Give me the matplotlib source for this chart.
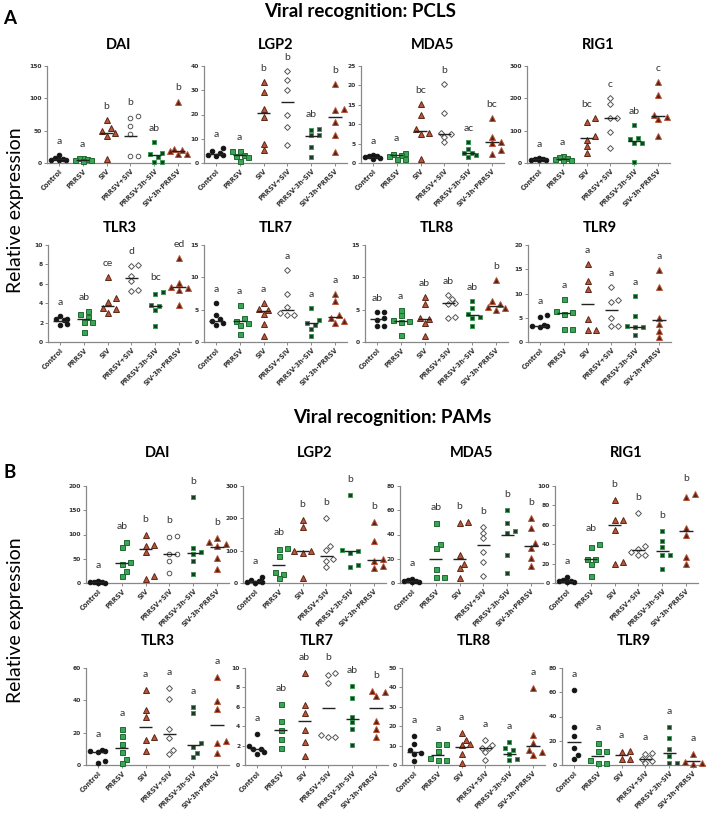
import numpy as np
import matplotlib
matplotlib.use("Agg")
import matplotlib.pyplot as plt

plt.rcParams["font.family"] = ["Lato", "DejaVu Sans"]

GROUPS = ["Control", "PRRSV", "SIV", "PRRSV+SIV", "PRRSV-3h-SIV", "SIV-3h-PRRSV"]

# ---- PCLS ----
PCLS_DAI = [[13, 7, 6, 5, 5, 4], [8, 7, 6, 5, 4, 3], [66, 54, 49, 47, 42, 6],
            [72, 69, 57, 45, 11, 11], [32, 16, 14, 10, 2, 2], [95, 21, 20, 19, 14, 14]]
PCLS_DAI_MED = [6, 5, 47, 42, 13, 18]
PCLS_DAI_LET = ["a", "a", "b", "b", "ab", "b"]

PCLS_LGP2 = [[6, 5, 4, 3.5, 3.3, 3], [5, 4.8, 3.5, 3, 2.5, 1], [33.3, 29.2, 22.4, 19, 7.9, 5.2],
             [38, 34.4, 30, 20, 14.7, 7.4], [14.2, 13.7, 11.6, 11.4, 6.7, 2.5], [32.6, 22.3, 21.7, 17, 11.7, 4.5]]
PCLS_LGP2_MED = [3.6, 3.2, 20.6, 25, 11.3, 19]
PCLS_LGP2_LET = ["a", "a", "b", "b", "ab", "b"]

PCLS_MDA5 = [[2.1, 1.9, 1.7, 1.5, 1.3, 1.0], [2.7, 2.4, 2.1, 1.7, 1.0, 1.0], [15.1, 12.5, 8.7, 7.7, 7.6, 1.0],
             [20.3, 13, 7.7, 7.5, 6.8, 5.3], [5.5, 3.7, 2.6, 2.6, 2.1, 1.6], [11.5, 6.7, 5.3, 5.1, 3.3, 2.3]]
PCLS_MDA5_MED = [1.6, 2.0, 8.2, 7.4, 2.7, 5.3]
PCLS_MDA5_LET = ["a", "a", "bc", "b", "ac", "bc"]

PCLS_RIG1 = [[14, 12, 11, 10, 9, 8], [22, 18, 15, 12, 10, 8], [138, 128, 84, 72, 54, 31],
             [202, 182, 140, 139, 95, 46], [118, 77, 74, 63, 61, 2], [249, 210, 150, 141, 135, 84]]
PCLS_RIG1_MED = [11, 12, 76, 140, 67, 146]
PCLS_RIG1_LET = ["a", "a", "bc", "c", "ab", "c"]

PCLS_TLR3 = [[2.7, 2.4, 2.4, 2.3, 1.9, 1.8], [3.2, 2.9, 2.6, 2.1, 2.1, 1.0], [6.7, 4.5, 4.1, 3.5, 3.4, 3.0],
             [7.9, 7.8, 6.8, 6.3, 5.4, 5.3], [5.2, 5.0, 3.8, 3.7, 3.3, 1.6], [8.7, 6.1, 5.7, 5.6, 5.4, 3.8]]
PCLS_TLR3_MED = [2.2, 2.4, 3.7, 6.6, 3.7, 5.7]
PCLS_TLR3_LET = ["a", "ab", "ce", "d", "bc", "ed"]

PCLS_TLR7 = [[6.0, 4.1, 3.5, 3.3, 2.9, 2.7], [5.7, 3.7, 3.3, 3.0, 2.7, 1.2], [6.0, 5.1, 5.0, 4.3, 2.8, 1.0],
             [11.1, 7.4, 5.4, 4.5, 4.1, 4.1], [5.3, 3.4, 2.9, 2.7, 2.0, 1.0], [7.4, 6.4, 4.1, 3.7, 3.2, 2.9]]
PCLS_TLR7_MED = [3.2, 3.2, 4.8, 5.0, 3.0, 3.8]
PCLS_TLR7_LET = ["a", "a", "a", "a", "a", "a"]

PCLS_TLR8 = [[4.6, 4.6, 3.7, 3.4, 2.4, 2.4], [5.0, 4.1, 3.4, 3.2, 3.1, 1.1], [6.9, 5.9, 3.7, 3.6, 2.9, 1.0],
             [7.3, 6.6, 6.1, 5.9, 3.8, 3.7], [6.4, 5.3, 4.3, 3.9, 3.7, 2.4], [9.6, 6.4, 5.8, 5.4, 5.2, 5.0]]
PCLS_TLR8_MED = [3.6, 3.3, 3.6, 6.0, 4.1, 5.5]
PCLS_TLR8_LET = ["ab", "a", "ab", "ab", "ab", "b"]

PCLS_TLR9 = [[5.5, 5.1, 3.6, 3.2, 3.2, 3.1], [8.9, 6.3, 6.2, 5.8, 2.7, 2.7], [16.1, 12.6, 10.9, 4.8, 2.5, 2.5],
             [11.3, 8.7, 8.2, 4.9, 3.2, 3.2], [9.4, 5.3, 3.2, 3.1, 3.1, 1.5], [14.9, 11.4, 5.0, 3.8, 2.3, 1.0]]
PCLS_TLR9_MED = [3.3, 6.0, 7.9, 6.6, 3.1, 4.5]
PCLS_TLR9_LET = ["a", "a", "a", "a", "a", "a"]

# ---- PAMs ----
PAM_DAI = [[4, 3, 2, 2, 1, 1], [84, 74, 43, 39, 24, 15], [99, 78, 76, 63, 15, 8],
           [96, 94, 60, 60, 45, 21], [177, 73, 63, 60, 46, 18], [92, 84, 81, 77, 51, 29]]
PAM_DAI_MED = [2, 41, 71, 60, 61, 74]
PAM_DAI_LET = ["a", "ab", "b", "b", "b", "b"]

PAM_LGP2 = [[18, 10, 6, 4, 2, 1], [107, 105, 82, 33, 28, 16], [195, 174, 99, 98, 92, 17],
            [200, 113, 102, 74, 67, 49], [271, 102, 100, 92, 56, 51], [190, 130, 74, 67, 54, 47]]
PAM_LGP2_MED = [5, 57, 99, 85, 98, 72]
PAM_LGP2_LET = ["a", "ab", "b", "b", "b", "b"]

PAM_MDA5 = [[3, 2.5, 2, 1.5, 1, 1], [49.3, 32, 28.8, 11.8, 4.9, 4.9], [49.9, 49.3, 23.3, 15.6, 12.3, 4.1],
            [45.8, 41.6, 37.5, 25.2, 17.3, 6.0], [60.3, 49.3, 42.5, 41.1, 23.3, 8.2], [54, 45, 33, 29, 20.5, 13.7]]
PAM_MDA5_MED = [1.7, 20, 19.5, 31.2, 40, 30.7]
PAM_MDA5_LET = ["a", "ab", "b", "b", "b", "b"]

PAM_RIG1 = [[6, 3, 2.5, 2, 1.5, 1], [40, 37, 25, 25, 20, 7.5], [86, 65, 65, 55, 22, 20],
            [72, 38, 35, 32, 29, 29], [54, 43, 37, 29, 29, 14], [92, 89, 57, 50, 27, 20]]
PAM_RIG1_MED = [2.2, 25, 60, 34, 33, 53.5]
PAM_RIG1_LET = ["a", "ab", "b", "b", "b", "b"]

PAM_TLR3 = [[9.2, 8.8, 8.6, 8.0, 2.5, 1.0], [22, 18, 13, 8.2, 3.9, 1.0], [46.6, 33.9, 29.8, 17.5, 15.4, 8.6],
            [47.6, 41, 22, 16.4, 9.0, 7.0], [36, 32, 13.3, 11.3, 7.6, 4.9], [54.4, 39.4, 34.7, 14.8, 13.3, 7.2]]
PAM_TLR3_MED = [8.3, 10.7, 23.8, 18.9, 12.3, 24.8]
PAM_TLR3_LET = ["a", "a", "a", "a", "a", "a"]

PAM_TLR7 = [[3.2, 2.0, 1.7, 1.6, 1.3, 1.1], [6.3, 4.5, 3.6, 2.7, 1.8], [9.5, 6.2, 5.4, 3.6, 2.4, 0.9],
            [9.5, 9.3, 8.5, 3.1, 2.9, 2.9], [8.1, 6.9, 5.0, 4.4, 3.7, 2.1], [7.6, 7.5, 7.1, 4.5, 3.7, 2.9]]
PAM_TLR7_MED = [1.6, 3.65, 4.5, 5.9, 4.7, 5.9]
PAM_TLR7_LET = ["a", "ab", "ab", "b", "ab", "b"]

PAM_TLR8 = [[14.9, 11, 7.7, 6.3, 5.5, 2.1], [10.6, 10.6, 7.2, 3.8, 2.6, 2.6], [16.6, 12.8, 10.6, 10.1, 5.5, 0.9],
            [12.8, 10.1, 8.9, 8.7, 6.7, 2.4], [12.0, 8.9, 7.7, 5.5, 2.9, 2.6], [39.7, 15.4, 11.5, 7.7, 6.7, 5.1]]
PAM_TLR8_MED = [6.8, 5.3, 9.1, 8.6, 5.8, 9.8]
PAM_TLR8_LET = ["a", "a", "a", "a", "a", "a"]

PAM_TLR9 = [[62, 31, 24, 14, 8, 5], [17.8, 11.5, 11.5, 3.8, 1.9, 1.9], [11.5, 10.7, 4.7, 4.7],
            [10.1, 8.8, 6.0, 5.2, 3.3, 1.9], [31, 22, 13.4, 7.4, 1.4, 1.4], [8.8, 2.5, 1.4, 0.5]]
PAM_TLR9_MED = [18.9, 7.4, 8, 5, 10, 3.3]
PAM_TLR9_LET = ["a", "a", "a", "a", "a", "a"]

# (marker, size, face, edge) per group
STYLES = [
    ("o", 3.3, "#141414", "#141414"),
    ("s", 3.6, "#3aa655", "#1f6a33"),
    ("^", 3.8, "#b8553b", "#5e2717"),
    ("D", 3.0, "white", "#555555"),
    ("s", 3.5, "#173f24", "#3c9a55"),
    ("^", 3.8, "#5a2415", "#b8553b"),
]

FIG_W, FIG_H = 715, 816


def swarm(values, ymax, h_px, unit_px, d_px):
    # symmetric beeswarm in pixel space; overlap allowed once the row is full
    ys = np.asarray(values, dtype=float) / ymax * h_px
    xs = np.zeros(len(ys))
    placed = []
    cands = [0, 1, -1, 2, -2]
    for i in np.argsort(ys):
        best, best_d = 0.0, -1.0
        for k in cands:
            x = k * d_px * 0.7
            dmin = min([np.hypot(x - px, ys[i] - py) for px, py in placed] or [1e9])
            if dmin >= d_px * 0.95:
                best = x
                break
            if dmin > best_d:
                best, best_d = x, dmin
        placed.append((best, ys[i]))
        xs[i] = best / unit_px
    return xs


def panel(fig, left, top, w, h, name, data, med, letters, ymax, step, let_off, title_y, dai=False):
    ax = fig.add_axes([left / FIG_W, 1 - (top + h) / FIG_H, w / FIG_W, h / FIG_H])
    ax.set_xlim(-0.5, 5.5)
    ax.set_ylim(0, ymax)
    unit_px = w / 6.0
    for g, vals in enumerate(data):
        marker, ms, face, edge = STYLES[g]
        if dai and g == 3:
            marker, ms = "o", 3.3
        xs = g + swarm(vals, ymax, h, unit_px, ms * 100 / 72 + 0.8)
        ax.plot(xs, vals, linestyle="none", marker=marker, ms=ms, mfc=face, mec=edge,
                mew=0.7, clip_on=False, zorder=3)
        ax.hlines(med[g], g - 0.28, g + 0.28, color="#222222", lw=1.0, zorder=4)
        ax.text(g, max(vals) + let_off * ymax, letters[g], ha="center", va="center",
                fontsize=7.5, color="#333333")
    ax.set_yticks(np.arange(0, ymax + step / 2, step))
    ax.set_xticks(range(6))
    ax.set_xticklabels(GROUPS, rotation=45, ha="right", rotation_mode="anchor",
                       fontsize=4.7, fontweight="bold", family="DejaVu Sans", color="#333333")
    for lab in ax.get_yticklabels():
        lab.set_fontsize(4.3)
        lab.set_fontweight("bold")
        lab.set_family("DejaVu Sans")
        lab.set_color("#333333")
    ax.tick_params(length=2, width=0.6, colors="#777777", pad=1.5)
    ax.tick_params(labelcolor="#333333")
    for side in ("top", "right"):
        ax.spines[side].set_visible(False)
    for side in ("left", "bottom"):
        ax.spines[side].set_color("#888888")
        ax.spines[side].set_linewidth(0.9)
    fig.text((left + w / 2) / FIG_W, 1 - title_y / FIG_H, name, ha="center", va="center",
             fontsize=10.5, fontweight="bold")
    return ax


fig = plt.figure(figsize=(FIG_W / 100, FIG_H / 100), dpi=100)

W, H = 143, 97
pcls_row1 = [("DAI", PCLS_DAI, PCLS_DAI_MED, PCLS_DAI_LET, 150, 50),
             ("LGP2", PCLS_LGP2, PCLS_LGP2_MED, PCLS_LGP2_LET, 40, 10),
             ("MDA5", PCLS_MDA5, PCLS_MDA5_MED, PCLS_MDA5_LET, 25, 5),
             ("RIG1", PCLS_RIG1, PCLS_RIG1_MED, PCLS_RIG1_LET, 300, 100)]
pcls_row2 = [("TLR3", PCLS_TLR3, PCLS_TLR3_MED, PCLS_TLR3_LET, 10, 2),
             ("TLR7", PCLS_TLR7, PCLS_TLR7_MED, PCLS_TLR7_LET, 15, 5),
             ("TLR8", PCLS_TLR8, PCLS_TLR8_MED, PCLS_TLR8_LET, 15, 5),
             ("TLR9", PCLS_TLR9, PCLS_TLR9_MED, PCLS_TLR9_LET, 20, 5)]
pam_row1 = [("DAI", PAM_DAI, PAM_DAI_MED, PAM_DAI_LET, 200, 50),
            ("LGP2", PAM_LGP2, PAM_LGP2_MED, PAM_LGP2_LET, 300, 100),
            ("MDA5", PAM_MDA5, PAM_MDA5_MED, PAM_MDA5_LET, 80, 20),
            ("RIG1", PAM_RIG1, PAM_RIG1_MED, PAM_RIG1_LET, 100, 20)]
pam_row2 = [("TLR3", PAM_TLR3, PAM_TLR3_MED, PAM_TLR3_LET, 60, 20),
            ("TLR7", PAM_TLR7, PAM_TLR7_MED, PAM_TLR7_LET, 10, 2),
            ("TLR8", PAM_TLR8, PAM_TLR8_MED, PAM_TLR8_LET, 50, 10),
            ("TLR9", PAM_TLR9, PAM_TLR9_MED, PAM_TLR9_LET, 80, 20)]

rows = [
    (pcls_row1, [47, 204, 361, 527], 66, 45, 0.14),
    (pcls_row2, [48, 204, 365, 528], 245, 228, 0.14),
    (pam_row1, [86, 243, 400, 555], 486, 453, 0.16),
    (pam_row2, [86, 245, 402, 562], 668, 641, 0.16),
]
for specs, lefts, top, title_y, off in rows:
    for (name, data, med, let, ymax, step), left in zip(specs, lefts):
        panel(fig, left, top, W, H, name, data, med, let, ymax, step, off, title_y, dai=(name == "DAI"))

fig.text(360 / FIG_W, 1 - 11 / FIG_H, "Viral recognition: PCLS", ha="center", va="center",
         fontsize=13.5, fontweight="bold")
fig.text(392 / FIG_W, 1 - 418 / FIG_H, "Viral recognition: PAMs", ha="center", va="center",
         fontsize=13.5, fontweight="bold")
fig.text(10 / FIG_W, 1 - 19 / FIG_H, "A", ha="center", va="center", fontsize=13.5, fontweight="bold")
fig.text(10 / FIG_W, 1 - 472 / FIG_H, "B", ha="center", va="center", fontsize=13.5, fontweight="bold")
fig.text(16 / FIG_W, 1 - 210 / FIG_H, "Relative expression", ha="center", va="center",
         rotation=90, fontsize=14)
fig.text(16 / FIG_W, 1 - 620 / FIG_H, "Relative expression", ha="center", va="center",
         rotation=90, fontsize=14)

fig.savefig("out.png", dpi=100)
